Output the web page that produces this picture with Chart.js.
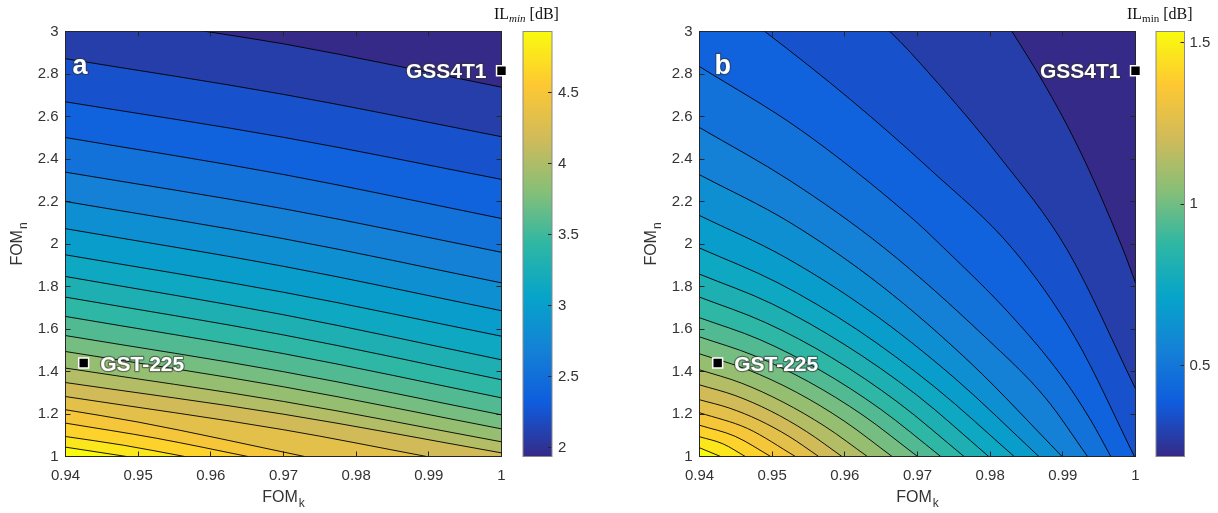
<!DOCTYPE html>
<html>
<head>
<meta charset="utf-8">
<script src="https://cdn.jsdelivr.net/npm/chart.js@4.4.0/dist/chart.umd.min.js"></script>
<style>
  html, body { margin: 0; padding: 0; background: #fff; }
  body { width: 1218px; height: 513px; position: relative; overflow: hidden; }
  canvas { position: absolute; top: 0; }
</style>
</head>
<body>
<canvas id="plotA" width="520" height="513" style="left:0px"></canvas>
<canvas id="plotB" width="520" height="513" style="left:630px"></canvas>
<canvas id="barA" width="140" height="513" style="left:470px"></canvas>
<canvas id="barB" width="118" height="513" style="left:1100px"></canvas>
<script>
// axis ticks
const xTicks = [0.94, 0.95, 0.96, 0.97, 0.98, 0.99, 1];
const yTicks = [1, 1.2, 1.4, 1.6, 1.8, 2, 2.2, 2.4, 2.6, 2.8, 3];
const barTicksA = [2, 2.5, 3, 3.5, 4, 4.5];
const barTicksB = [0.5, 1, 1.5];
const barRangeA = [1.94, 4.93];
const barRangeB = [0.22, 1.534];

// the two marked materials
const devices = ['GST-225', 'GSS4T1'];
const devFomK = [0.9425, 1.0];
const devFomN = [1.44, 2.815];

// contour lines of IL_min, [FOM_k, FOM_n] points,
// ordered from the lowest level (top right) to the highest (bottom left)
const contoursA = [
  [[0.94, 3.11], [0.9594, 3.0], [0.97, 2.942], [1.0, 2.738]],
  [[0.94, 2.872], [0.97, 2.704], [1.0, 2.505]],
  [[0.94, 2.669], [0.97, 2.502], [1.0, 2.304]],
  [[0.94, 2.501], [0.97, 2.327], [1.0, 2.120]],
  [[0.94, 2.338], [0.97, 2.166], [1.0, 1.961]],
  [[0.94, 2.200], [0.97, 2.025], [1.0, 1.817]],
  [[0.94, 2.072], [0.97, 1.895], [1.0, 1.686]],
  [[0.94, 1.949], [0.97, 1.773], [1.0, 1.566]],
  [[0.94, 1.847], [0.97, 1.667], [1.0, 1.455]],
  [[0.94, 1.750], [0.97, 1.572], [1.0, 1.361]],
  [[0.94, 1.659], [0.97, 1.484], [1.0, 1.276]],
  [[0.94, 1.569], [0.97, 1.399], [1.0, 1.196]],
  [[0.94, 1.494], [0.97, 1.328], [1.0, 1.130]],
  [[0.94, 1.416], [0.97, 1.259], [1.0, 1.069]],
  [[0.94, 1.348], [0.97, 1.199], [1.0, 1.017]],
  [[0.94, 1.282], [0.97, 1.126], [0.9897, 1.0]],
  [[0.94, 1.220], [0.95, 1.162], [0.9729, 1.0]],
  [[0.94, 1.157], [0.9525, 1.086], [0.9651, 1.0]],
  [[0.94, 1.094], [0.948, 1.053], [0.9564, 1.0]],
  [[0.94, 1.044], [0.9484, 1.0]]
];

const contoursB = [
  [[0.94, 4.09], [0.9649, 3.667], [0.9759, 3.337], [0.9830, 3.0], [0.9917, 2.484], [0.9983, 1.973], [1.0, 1.817]],
  [[0.94, 3.549], [0.9567, 3.267], [0.9662, 3.0], [0.9718, 2.796], [0.9814, 2.406], [0.9906, 1.973], [1.0, 1.319]],
  [[0.94, 3.229], [0.9490, 3.0], [0.9608, 2.679], [0.9718, 2.349], [0.9832, 1.973], [0.9917, 1.559], [1.0, 0.99]],
  [[0.94, 2.835], [0.9539, 2.537], [0.9690, 2.129], [0.9736, 1.982], [0.9828, 1.667], [0.9897, 1.385], [0.9938, 1.173], [0.9966, 1.0]],
  [[0.94, 2.548], [0.9525, 2.297], [0.9654, 1.982], [0.9794, 1.559], [0.9876, 1.276], [0.9934, 1.0]],
  [[0.94, 2.326], [0.9525, 2.100], [0.9650, 1.804], [0.9774, 1.437], [0.9899, 1.0]],
  [[0.94, 2.134], [0.9517, 1.939], [0.9634, 1.685], [0.9750, 1.372], [0.9867, 1.0]],
  [[0.94, 1.981], [0.9508, 1.817], [0.9616, 1.599], [0.9724, 1.326], [0.9833, 1.0]],
  [[0.94, 1.858], [0.9500, 1.718], [0.9599, 1.528], [0.9699, 1.289], [0.9798, 1.0]],
  [[0.94, 1.750], [0.9491, 1.630], [0.9582, 1.465], [0.9673, 1.255], [0.9764, 1.0]],
  [[0.94, 1.653], [0.9483, 1.550], [0.9566, 1.406], [0.9649, 1.223], [0.9732, 1.0]],
  [[0.94, 1.563], [0.9475, 1.475], [0.9550, 1.352], [0.9625, 1.194], [0.9700, 1.0]],
  [[0.94, 1.483], [0.9466, 1.409], [0.9533, 1.303], [0.9599, 1.167], [0.9665, 1.0]],
  [[0.94, 1.408], [0.9458, 1.345], [0.9515, 1.256], [0.9573, 1.141], [0.9631, 1.0]],
  [[0.94, 1.337], [0.9449, 1.287], [0.9498, 1.214], [0.9547, 1.118], [0.9596, 1.0]],
  [[0.94, 1.267], [0.9441, 1.228], [0.9482, 1.171], [0.9523, 1.095], [0.9564, 1.0]],
  [[0.94, 1.206], [0.9466, 1.132], [0.9532, 1.0]],
  [[0.94, 1.147], [0.9449, 1.095], [0.9498, 1.0]],
  [[0.94, 1.093], [0.9432, 1.060], [0.9463, 1.0]],
  [[0.94, 1.041], [0.9429, 1.0]]
];

// parula colormap
const parula = ['#352a87', '#0f5cdd', '#1481d6', '#06a4ca', '#2eb7a4', '#87bf77', '#d1bb59', '#fec832', '#f9fb0e'];

function hexRgb(h) {
  return [1, 3, 5].map(i => parseInt(h.substr(i, 2), 16));
}

function parulaAt(t) {
  const s = Math.min(Math.max(t, 0), 1) * (parula.length - 1);
  const i = Math.min(Math.floor(s), parula.length - 2);
  const f = s - i;
  const a = hexRgb(parula[i]), b = hexRgb(parula[i + 1]);
  const c = a.map((v, k) => Math.round(v + (b[k] - v) * f));
  return `rgb(${c[0]}, ${c[1]}, ${c[2]})`;
}

const fmt = v => String(+v.toFixed(3));
const sans = '"Liberation Sans", Arial, sans-serif';
const serif = '"Liberation Serif", "Times New Roman", serif';
const textColor = '#333';

Chart.defaults.font.family = sans;
Chart.defaults.font.size = 15;
Chart.defaults.color = textColor;

// each contour fills everything below it with the colour of its band,
// higher bands are painted over lower ones
function contourDatasets(lines) {
  const n = lines.length;
  const sets = [{
    data: [[xTicks[0], 9], [xTicks[xTicks.length - 1], 9]],
    backgroundColor: parulaAt(0),
    borderWidth: 0,
    fill: 'start'
  }];
  lines.forEach((pts, i) => {
    sets.push({
      data: pts,
      backgroundColor: parulaAt((i + 1) / n),
      borderColor: 'rgba(0,0,0,0.9)',
      borderWidth: 1,
      fill: 'start'
    });
  });
  return sets.reverse();
}

function drawSub(ctx, x, y, main, sub, size, subSize, shift) {
  ctx.font = size + 'px ' + sans;
  const w1 = ctx.measureText(main).width;
  ctx.font = subSize + 'px ' + sans;
  const w2 = ctx.measureText(sub).width;
  const x0 = x - (w1 + w2 + 1) / 2;
  ctx.font = size + 'px ' + sans;
  ctx.fillText(main, x0, y);
  ctx.font = subSize + 'px ' + sans;
  ctx.fillText(sub, x0 + w1 + 1, y + shift);
}

function outlined(ctx, text, x, y) {
  ctx.lineJoin = 'round';
  ctx.lineWidth = 2.5;
  ctx.strokeStyle = 'rgba(50,50,50,0.55)';
  ctx.strokeText(text, x, y);
  ctx.fillStyle = '#fff';
  ctx.fillText(text, x, y);
}

const plotDeco = {
  id: 'plotDeco',
  beforeDatasetsDraw(chart) {
    const {ctx, chartArea: a, scales: {x, y}} = chart;
    ctx.save();
    ctx.strokeStyle = '#262626';
    ctx.lineWidth = 1;
    ctx.beginPath();
    x.ticks.slice(1, -1).forEach(t => {
      const px = Math.round(x.getPixelForValue(t.value) - 0.5) + 0.5;
      ctx.moveTo(px, a.top); ctx.lineTo(px, a.top + 5);
      ctx.moveTo(px, a.bottom); ctx.lineTo(px, a.bottom - 5);
    });
    y.ticks.slice(1, -1).forEach(t => {
      const py = Math.round(y.getPixelForValue(t.value) - 0.5) + 0.5;
      ctx.moveTo(a.left, py); ctx.lineTo(a.left + 5, py);
      ctx.moveTo(a.right, py); ctx.lineTo(a.right - 5, py);
    });
    ctx.stroke();
    ctx.strokeRect(a.left, a.top, a.right - a.left, a.bottom - a.top);
    ctx.restore();
  },
  afterDatasetsDraw(chart, args, opts) {
    const {ctx, chartArea: a, scales: {x, y}} = chart;
    ctx.save();
    ctx.fillStyle = textColor;
    ctx.textBaseline = 'alphabetic';
    ctx.textAlign = 'left';
    drawSub(ctx, (a.left + a.right) / 2, 501.5, 'FOM', 'k', 16, 12, 5);
    ctx.translate(a.left - 43.5, (a.top + a.bottom) / 2);
    ctx.rotate(-Math.PI / 2);
    drawSub(ctx, 0, 0, 'FOM', 'n', 16, 12, 5);
    ctx.restore();

    ctx.save();
    ctx.font = 'bold 27px ' + sans;
    ctx.textAlign = 'left';
    outlined(ctx, opts.letter, a.left + opts.letterDx, a.top + 42);
    ctx.font = 'bold 21px ' + sans;
    devices.forEach((name, i) => {
      const px = x.getPixelForValue(devFomK[i]);
      const py = y.getPixelForValue(devFomN[i]) + 7.5;
      if (i === 0) {
        ctx.textAlign = 'left';
        outlined(ctx, name, px + 16.5, py);
      } else {
        ctx.textAlign = 'right';
        outlined(ctx, name, px - 15, py);
      }
    });
    ctx.restore();
  }
};

function contourPlot(id, lines, axisWidth, padRight, letter, letterDx) {
  const markerSet = {
    data: devFomK.map((k, i) => ({x: k, y: devFomN[i]})),
    showLine: false,
    pointStyle: 'rect',
    pointRadius: 7,
    pointBackgroundColor: '#000',
    pointBorderColor: '#fff',
    pointBorderWidth: 1.5,
    fill: false,
    clip: false
  };
  return new Chart(document.getElementById(id), {
    type: 'line',
    data: {datasets: [markerSet].concat(contourDatasets(lines))},
    options: {
      responsive: false,
      animation: false,
      events: [],
      layout: {padding: {left: 0, right: padRight, top: 31.5, bottom: 0}},
      elements: {
        line: {capBezierPoints: false, cubicInterpolationMode: 'monotone'},
        point: {radius: 0, hoverRadius: 0}
      },
      plugins: {
        legend: {display: false},
        tooltip: {enabled: false},
        filler: {drawTime: 'beforeDatasetsDraw'},
        plotDeco: {letter, letterDx}
      },
      scales: {
        x: {
          type: 'linear',
          min: xTicks[0],
          max: xTicks[xTicks.length - 1],
          afterBuildTicks: s => { s.ticks = xTicks.map(v => ({value: v})); },
          afterFit: s => { s.height = 56.5; },
          grid: {display: false, drawTicks: false},
          border: {display: false},
          ticks: {padding: 10, maxRotation: 0, autoSkip: false, callback: v => fmt(v)}
        },
        y: {
          type: 'linear',
          min: yTicks[0],
          max: yTicks[yTicks.length - 1],
          afterBuildTicks: s => { s.ticks = yTicks.map(v => ({value: v})); },
          afterFit: s => { s.width = axisWidth; },
          grid: {display: false, drawTicks: false},
          border: {display: false},
          ticks: {padding: 7, autoSkip: false, callback: v => fmt(v)}
        }
      }
    },
    plugins: [plotDeco]
  });
}

const barDeco = {
  id: 'barDeco',
  afterDatasetsDraw(chart, args, opts) {
    const {ctx, chartArea: a, scales: {y}} = chart;
    ctx.save();
    ctx.strokeStyle = '#262626';
    ctx.lineWidth = 1;
    ctx.beginPath();
    y.ticks.forEach(t => {
      const py = Math.round(y.getPixelForValue(t.value) - 0.5) + 0.5;
      ctx.moveTo(a.right, py); ctx.lineTo(a.right - 4, py);
    });
    ctx.stroke();
    ctx.strokeStyle = '#8a8a8a';
    ctx.strokeRect(a.left, a.top, a.right - a.left, a.bottom - a.top);

    ctx.fillStyle = '#111';
    ctx.textAlign = 'left';
    ctx.textBaseline = 'alphabetic';
    let x0 = a.left - 29;
    ctx.font = '16px ' + serif;
    ctx.fillText('IL', x0, 19);
    x0 += ctx.measureText('IL').width;
    ctx.font = (opts.italic ? 'italic ' : '') + '11px ' + serif;
    ctx.fillText('min', x0, 22);
    x0 += ctx.measureText('min').width;
    ctx.font = '16px ' + serif;
    ctx.fillText(' [dB]', x0, 19);
    ctx.restore();
  }
};

function colorbar(id, range, ticks, padLeft, axisWidth, labelPad, italic) {
  return new Chart(document.getElementById(id), {
    type: 'bar',
    data: {
      labels: [''],
      datasets: [{
        data: [range],
        barPercentage: 1,
        categoryPercentage: 1,
        borderWidth: 0,
        backgroundColor: c => {
          const a = c.chart.chartArea;
          if (!a) return parula[0];
          const g = c.chart.ctx.createLinearGradient(0, a.bottom, 0, a.top);
          parula.forEach((col, i) => g.addColorStop(i / (parula.length - 1), col));
          return g;
        }
      }]
    },
    options: {
      responsive: false,
      animation: false,
      events: [],
      layout: {padding: {left: padLeft, right: 0, top: 31.5, bottom: 56.5}},
      plugins: {legend: {display: false}, tooltip: {enabled: false}, barDeco: {italic}},
      scales: {
        x: {display: false},
        y: {
          position: 'right',
          min: range[0],
          max: range[1],
          afterBuildTicks: s => { s.ticks = ticks.map(v => ({value: v})); },
          afterFit: s => { s.width = axisWidth; },
          grid: {display: false, drawTicks: false},
          border: {display: false},
          ticks: {padding: labelPad, callback: v => fmt(v)}
        }
      }
    },
    plugins: [barDeco]
  });
}

contourPlot('plotA', contoursA, 65.5, 18.5, 'a', 7);
contourPlot('plotB', contoursB, 69.5, 14.5, 'b', 15);
colorbar('barA', barRangeA, barTicksA, 53, 58, 6, true);
colorbar('barB', barRangeB, barTicksB, 56, 33.5, 5, false);
</script>
</body>
</html>
